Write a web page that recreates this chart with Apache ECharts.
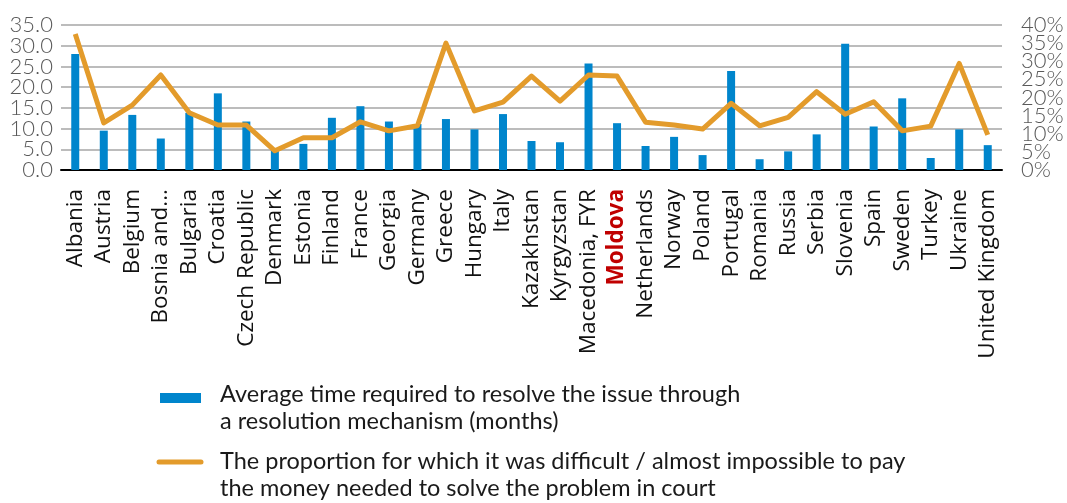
<!DOCTYPE html>
<html>
<head>
<meta charset="utf-8">
<script src="https://cdn.jsdelivr.net/npm/echarts@6/dist/echarts.min.js"></script>
<style>html,body{margin:0;padding:0;background:#fff}#c{width:1067px;height:503px}</style>
</head>
<body>
<div id="c"></div>
<script>
const categories = ["Albania","Austria","Belgium","Bosnia and...","Bulgaria","Croatia","Czech Republic","Denmark","Estonia","Finland","France","Georgia","Germany","Greece","Hungary","Italy","Kazakhstan","Kyrgyzstan","Macedonia, FYR","Moldova","Netherlands","Norway","Poland","Portugal","Romania","Russia","Serbia","Slovenia","Spain","Sweden","Turkey","Ukraine","United Kingdom"];
const avgMonths = [28.0,9.5,13.3,7.6,13.8,18.5,11.7,4.8,6.3,12.6,15.4,11.7,11.1,12.3,9.8,13.5,7.0,6.7,25.7,11.3,5.8,8.0,3.6,23.9,2.6,4.5,8.6,30.5,10.5,17.3,2.9,9.8,6.0];
const difficultPct = [37.5,13.0,17.9,26.2,15.8,12.4,12.4,5.3,8.9,8.9,13.3,10.8,12.2,35.0,16.3,18.7,25.9,19.0,26.2,25.9,13.2,12.4,11.3,18.4,12.2,14.5,21.6,15.4,18.8,10.8,12.1,29.4,9.7];
const leftTickLabels = ["0.0","5.0","10.0","15.0","20.0","25.0","30.0","35.0"];
const rightTickLabels = ["0%","5%","10%","15%","20%","25%","30%","35%","40%"];
const leftTicks = {min:0, max:35, interval:5};
const rightTicks = {min:0, max:40, interval:5};
const seriesNames = ["Average time required to resolve the issue through\na resolution mechanism (months)",
  "The proportion for which it was difficult / almost impossible to pay\nthe money needed to solve the problem in court"];
const highlight = "Moldova";

const BLUE = '#0085CC', ORANGE = '#E39B2B';
const tickLabelStyle = {fontSize:22, fontFamily:'Lato', fontWeight:300, color:'#595959', interval:0, hideOverlap:false};
const chart = echarts.init(document.getElementById('c'), null, {renderer:'canvas'});
chart.setOption({
  animation:false,
  grid:{left:61, right:65, top:25, bottom:333, containLabel:false},
  xAxis:{type:'category', data:categories,
    axisLine:{lineStyle:{color:'#000', width:2}}, axisTick:{show:false},
    axisLabel:{rotate:90, interval:0, margin:19, fontSize:22.5, fontFamily:'Open Sans', color:'#111',
      formatter:v => v===highlight ? '{m|'+v+'}' : v,
      rich:{m:{fontSize:22.5, fontFamily:'Open Sans', fontWeight:'bold', color:'#C00000'}}}},
  yAxis:[
    {type:'value', position:'left', min:leftTicks.min, max:leftTicks.max, interval:leftTicks.interval,
      axisLine:{show:false}, axisTick:{show:false}, axisLabel:{show:false},
      splitLine:{lineStyle:{color:'#a6a6a6', width:1.5}}},
    {type:'value', position:'right', min:rightTicks.min, max:rightTicks.max, interval:rightTicks.interval,
      axisLine:{show:false}, axisTick:{show:false}, axisLabel:{show:false}, splitLine:{show:false}},
    {type:'category', position:'left', data:leftTickLabels, boundaryGap:false,
      axisLine:{show:false}, axisTick:{show:false}, splitLine:{show:false},
      axisLabel:Object.assign({margin:8}, tickLabelStyle)},
    {type:'category', position:'right', data:rightTickLabels, boundaryGap:false,
      axisLine:{show:false}, axisTick:{show:false}, splitLine:{show:false},
      axisLabel:Object.assign({margin:19}, tickLabelStyle)}
  ],
  series:[
    {name:seriesNames[0], type:'bar', yAxisIndex:0, data:avgMonths, barWidth:8, itemStyle:{color:BLUE}, z:2},
    {name:seriesNames[1], type:'line', yAxisIndex:1, data:difficultPct, symbol:'none',
      lineStyle:{color:ORANGE, width:5, join:'round'}, z:3}
  ],
  graphic:[
    {type:'rect', left:160, top:393, shape:{width:41, height:10}, style:{fill:BLUE}},
    {type:'text', left:220, top:381, style:{text:seriesNames[0], font:'23.5px Lato', fill:'#1a1a1a', lineHeight:27}},
    {type:'line', shape:{x1:159, y1:462, x2:201, y2:462}, style:{stroke:ORANGE, lineWidth:5, lineCap:'round'}},
    {type:'text', left:220, top:448, style:{text:seriesNames[1], font:'23.5px Lato', fill:'#1a1a1a', lineHeight:27}}
  ]
});
</script>
</body>
</html>
